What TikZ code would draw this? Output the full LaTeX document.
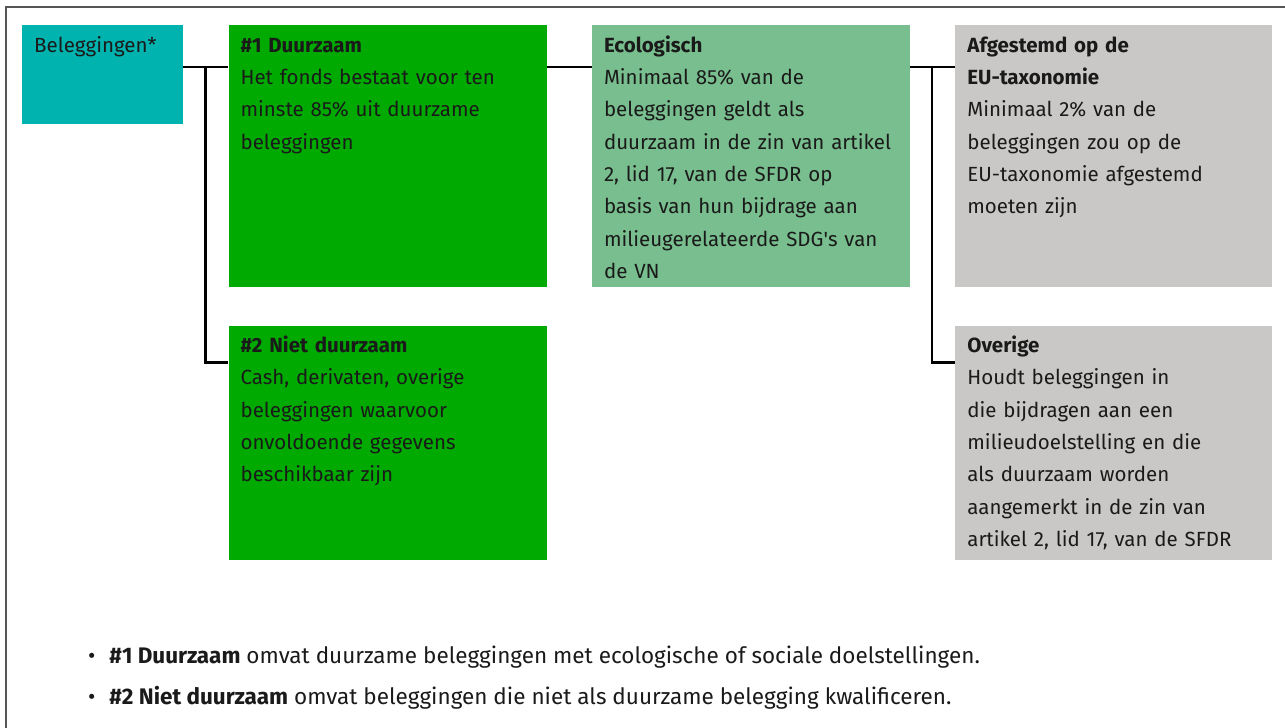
\documentclass[tikz,border=0pt]{standalone}
\usepackage{fontspec}
\setmainfont{Fira Sans}
\usetikzlibrary{positioning}
\definecolor{blauwgroen}{HTML}{00B3AE}
\definecolor{groen}{HTML}{00AA00}
\definecolor{lichtgroen}{HTML}{78BE8E}
\definecolor{grijs}{HTML}{C9C8C6}
\definecolor{kader}{HTML}{555555}
\definecolor{tekst}{HTML}{1A1A1A}

\begin{document}
\begin{tikzpicture}[x=1pt, y=1pt,
	bx/.style={anchor=north west, inner xsep=12pt, inner ysep=0pt, align=left, text=tekst, font=\fontsize{20.5}{32.3}\selectfont, text height=27pt},
	groot/.style={bx, text width=294pt, text depth=235pt},
	klein/.style={bx, text width=294pt, text depth=207pt},
	note/.style={anchor=base west, inner sep=0pt, text=tekst, font=\fontsize{22.5}{26}\selectfont},
	conn/.style={line width=2.5pt, black}
	]
	
	\useasboundingbox (0,0) rectangle (1285,-728);
	\draw[kader, line width=2pt] (1285,-7) -- (6,-7) -- (6,-728);
	
	\node[bx, fill=blauwgroen, text width=137pt, text depth=72pt] (bel) at (22,-25) {Beleggingen*};
	\node[groot, fill=groen] (d1) [right=45pt of bel.north east, anchor=north west] {\textbf{\#1 Duurzaam}\\Het fonds bestaat voor ten\\minste 85\% uit duurzame\\beleggingen};
	\node[klein, fill=groen] (d2) [below=38pt of d1.south west, anchor=north west] {\textbf{\#2 Niet duurzaam}\\Cash, derivaten, overige\\beleggingen waarvoor\\onvoldoende gegevens\\beschikbaar zijn};
	
	\node[groot, fill=lichtgroen] (eco) [right=45pt of d1.north east, anchor=north west] {\textbf{Ecologisch}\\Minimaal 85\% van de\\beleggingen geldt als\\duurzaam in de zin van artikel\\2, lid 17, van de SFDR op\\basis van hun bijdrage aan\\milieugerelateerde SDG\textquotesingle s van\\de VN};
	
	\node[groot, fill=grijs, text width=293pt] (tax) [right=45pt of eco.north east, anchor=north west] {\textbf{Afgestemd op de}\\\textbf{EU-taxonomie}\\Minimaal 2\% van de\\beleggingen zou op de\\EU-taxonomie afgestemd\\moeten zijn};
	\node[klein, fill=grijs, text width=293pt] (ove) [below=38pt of tax.south west, anchor=north west] {\textbf{Overige}\\Houdt beleggingen in\\die bijdragen aan een\\milieudoelstelling en die\\als duurzaam worden\\aangemerkt in de zin van\\artikel 2, lid 17, van de SFDR};
	
	\draw[conn] ([yshift=-42pt]bel.north east) -- ([yshift=-42pt]d1.north west);
	\draw[conn] ([xshift=22pt, yshift=-42pt]bel.north east) |- ([yshift=-37pt]d2.north west);
	\draw[conn] ([yshift=-42pt]d1.north east) -- ([yshift=-42pt]eco.north west);
	\draw[conn] ([yshift=-42pt]eco.north east) -- ([yshift=-42pt]tax.north west);
	\draw[conn] ([xshift=22pt, yshift=-42pt]eco.north east) |- ([yshift=-37pt]ove.north west);
	
	\node[note] (n1) at (88,-663) {\textbullet\hspace{14pt}\textbf{\#1 Duurzaam} omvat duurzame beleggingen met ecologische of sociale doelstellingen.};
	\node[note] (n2) [below=41pt of n1.base west, anchor=base west] {\textbullet\hspace{14pt}\textbf{\#2 Niet duurzaam} omvat beleggingen die niet als duurzame belegging kwalificeren.};
	
\end{tikzpicture}
\end{document}
